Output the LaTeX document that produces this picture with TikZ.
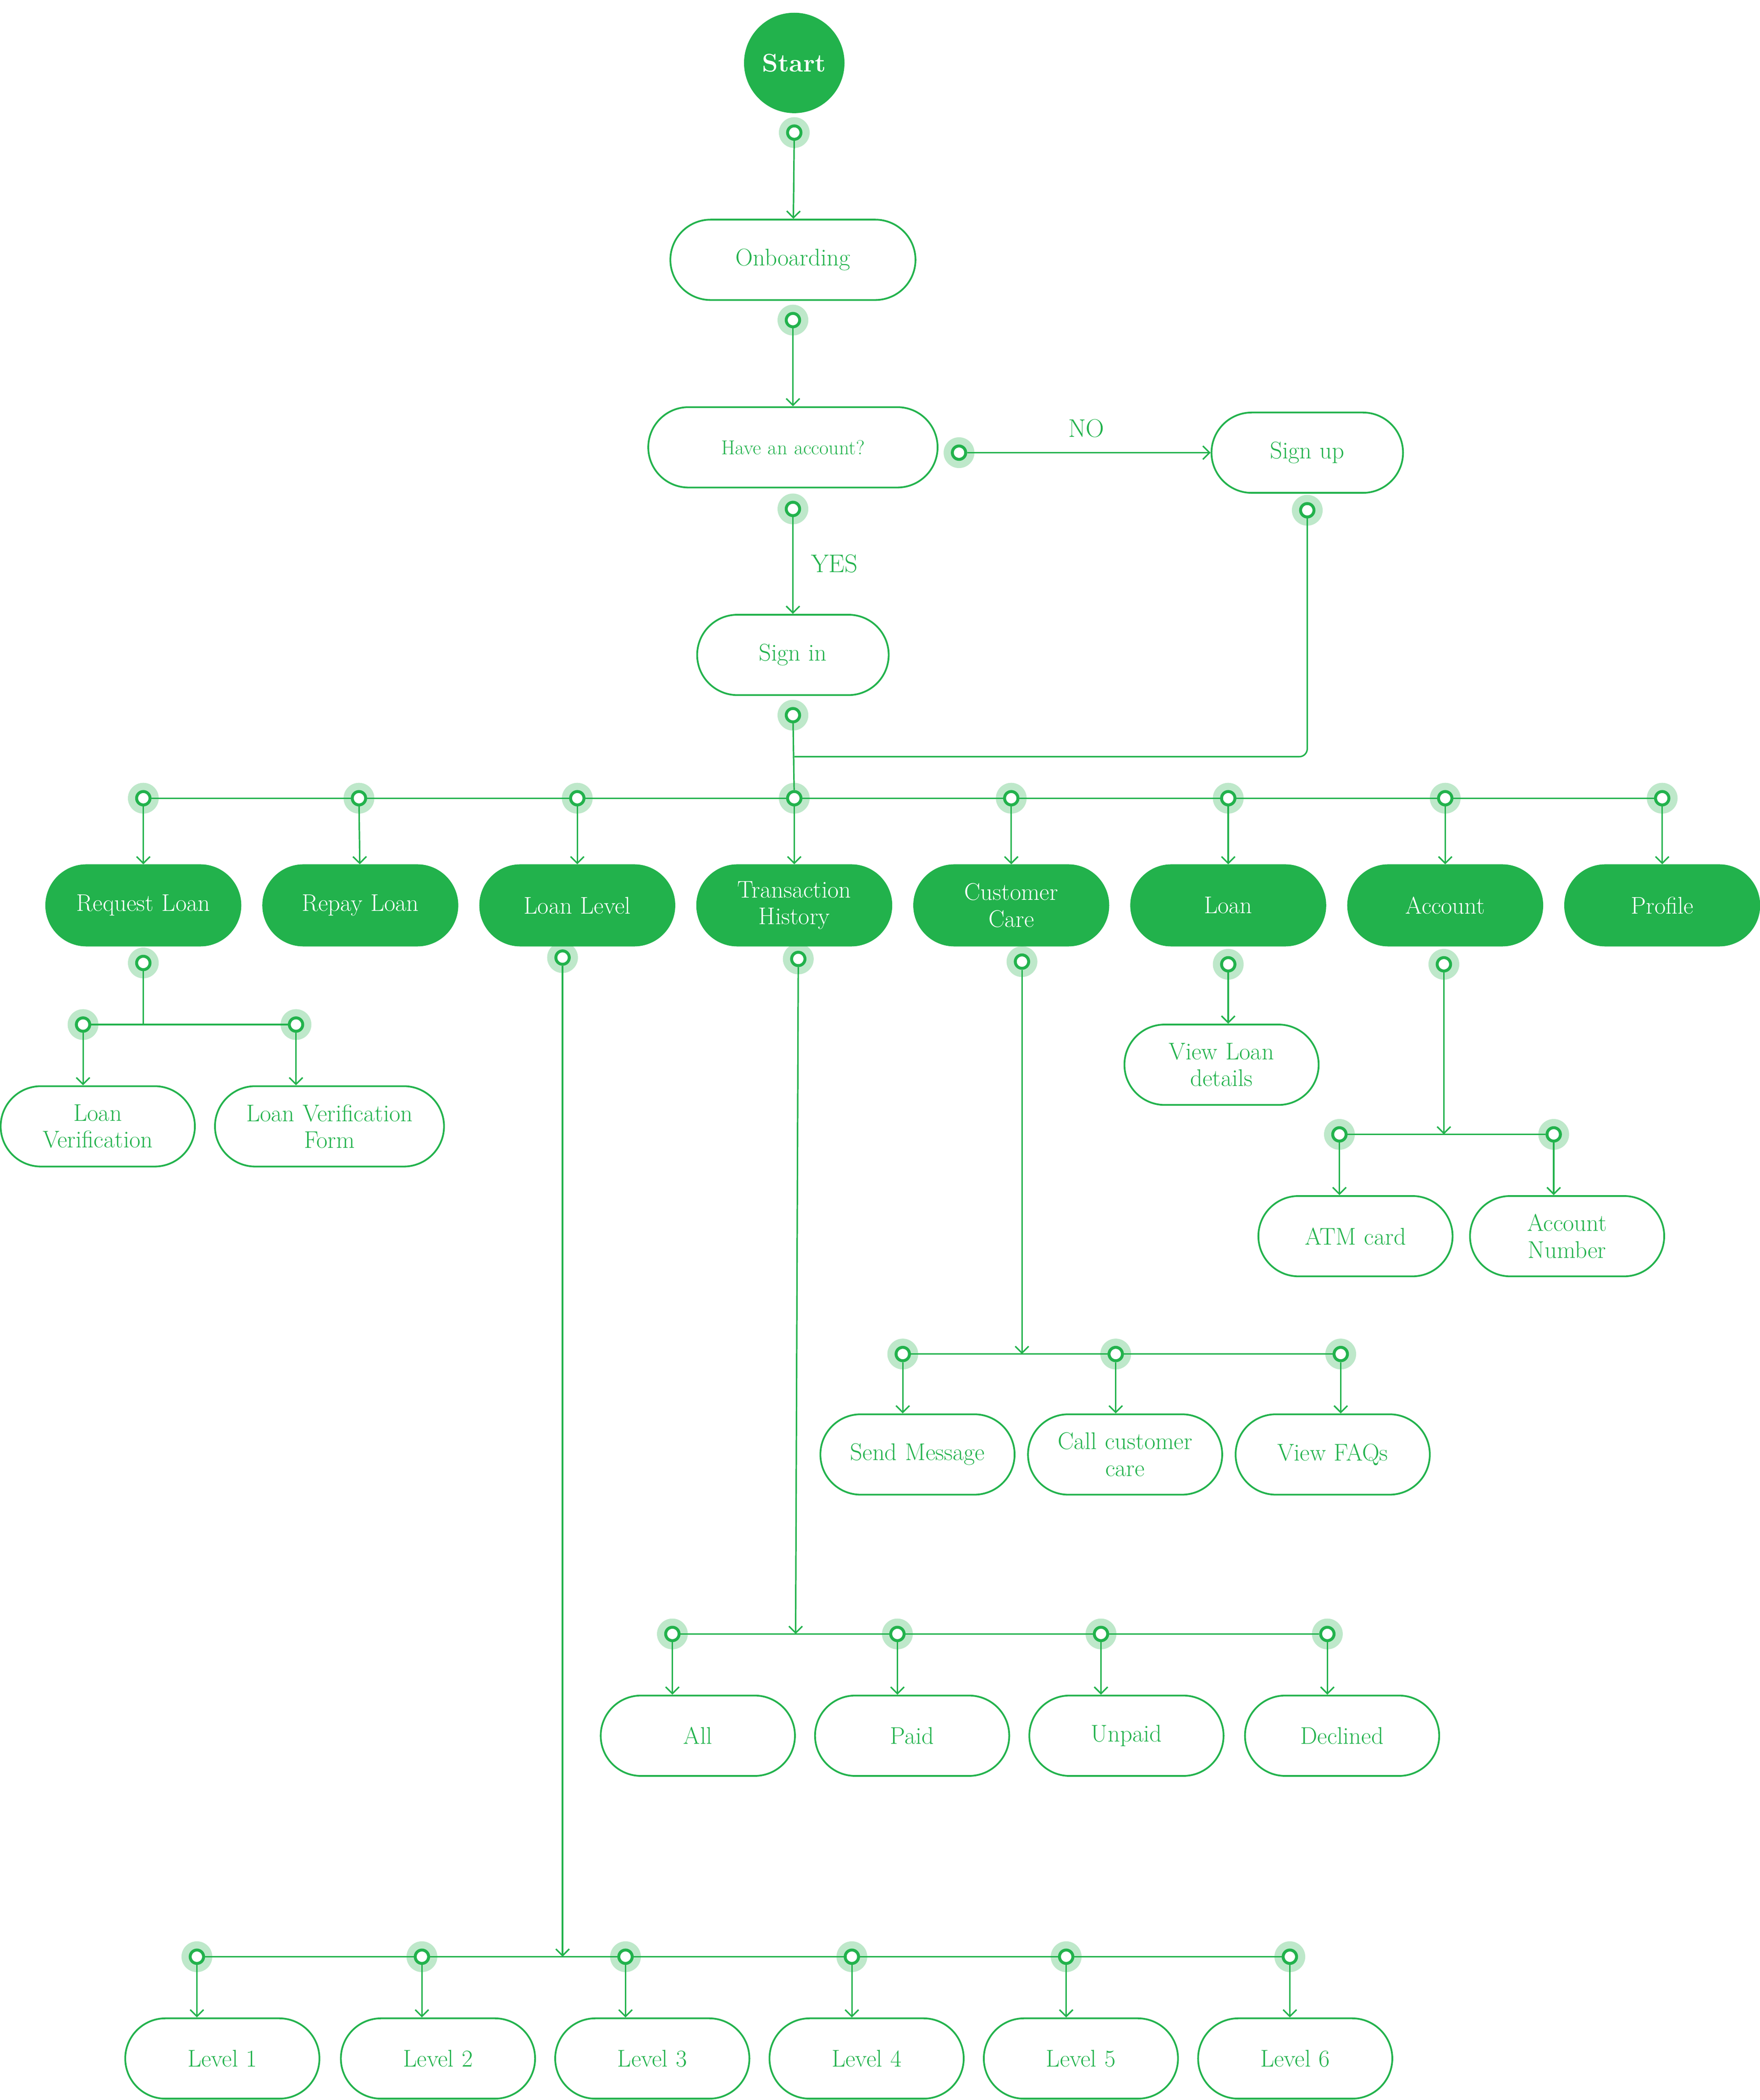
\documentclass[tikz,border=0pt]{standalone}
\usetikzlibrary{positioning,backgrounds,arrows.meta}
\definecolor{leaf}{HTML}{22B24C}
\definecolor{halo}{HTML}{BEE8CA}
\tikzset{
  pill/.style={draw=leaf, line width=1.3pt, rounded corners=30pt, minimum width=145pt,
    minimum height=60pt, text width=140pt, align=center, inner sep=0pt, text=leaf,
    font=\fontsize{18}{20}\selectfont},
  fullpill/.style={pill, fill=leaf, text=white},
  hub/.style={circle, draw=leaf, fill=white, line width=2.2pt, minimum size=10pt, inner sep=0pt},
  link/.style={draw=leaf, line width=1.1pt},
  arr/.style={link, -{Straight Barb[length=5pt,width=10pt,line width=1.1pt]}},
  tag/.style={text=leaf, font=\fontsize{19}{21}\selectfont}
}
\newcommand\hubdot[2]{%
  \begin{pgfonlayer}{background}\fill[halo] (#2) circle (11.5pt);\end{pgfonlayer}
  \node[hub] (#1) at (#2) {};}
\begin{document}
\begin{tikzpicture}[x=1pt,y=-1pt]
\useasboundingbox (0,0) rectangle (1314,1568);
% top of the flow
\node[circle, fill=leaf, minimum size=75pt, text=white, font=\fontsize{19}{21}\selectfont\bfseries] (start) at (593,47) {Start};
\hubdot{d0}{593,99}
\node[pill, minimum width=183pt] (onb) at (592,194) {Onboarding};
\hubdot{d1}{592,239}
\node[pill, minimum width=216pt, font=\fontsize{15}{17}\selectfont] (acc) at (592,334) {Have an account?};
\hubdot{dno}{716,338}
\hubdot{dyes}{592,380}
\node[pill, minimum width=143pt] (signup) at (976,338) {Sign up};
\hubdot{dup}{976,381}
\node[pill, minimum width=143pt] (signin) at (592,489) {Sign in};
\hubdot{din}{592,534}
\node[tag] (no) at (811,320) {NO};
\node[tag] (yes) at (623,421) {YES};
% menu row
\foreach \x/\n in {107/m1,268/m2,431/m3,593/m4,755/m5,917/m6,1079/m7,1241/m8}
  {\hubdot{\n}{\x,596}}
\node[fullpill] (reqloan) at (107,676) {Request Loan};
\node[fullpill] (repay) at (269,676) {Repay Loan};
\node[fullpill] (level) at (431,676) {Loan Level};
\node[fullpill] (trans) at (593,676) {Transaction\\History};
\node[fullpill] (care) at (755,676) {Customer\\Care};
\node[fullpill] (loan) at (917,676) {Loan};
\node[fullpill] (account) at (1079,676) {Account};
\node[fullpill] (profile) at (1241,676) {Profile};
% request loan
\hubdot{r0}{107,719}
\hubdot{r1}{62,765}
\hubdot{r2}{221,765}
\coordinate (rj) at (107,765);
\node[pill] (lver) at (73,841) {Loan\\Verification};
\node[pill, minimum width=171pt, text width=165pt] (lform) at (246,841) {Loan Verification\\Form};
% loan
\hubdot{l0}{917,720}
\node[pill] (viewloan) at (912,795) {View Loan\\details};
% account
\hubdot{a0}{1078,720}
\hubdot{a1}{1000,847}
\hubdot{a2}{1160,847}
\coordinate (aj) at (1078,847);
\node[pill] (atm) at (1012,923) {ATM card};
\node[pill] (accno) at (1170,923) {Account\\Number};
% customer care
\hubdot{c0}{763,718}
\hubdot{c1}{674,1011}
\hubdot{c2}{833,1011}
\hubdot{c3}{1001,1011}
\coordinate (cj) at (763,1011);
\node[pill] (send) at (685,1086) {Send Message};
\node[pill] (call) at (840,1086) {Call customer\\care};
\node[pill] (faq) at (995,1086) {View FAQs};
% transaction history
\hubdot{t0}{596,716}
\hubdot{t1}{502,1220}
\hubdot{t2}{670,1220}
\hubdot{t3}{822,1220}
\hubdot{t4}{991,1220}
\coordinate (tj) at (594,1220);
\node[pill] (all) at (521,1296) {All};
\node[pill] (paid) at (681,1296) {Paid};
\node[pill] (unpaid) at (841,1296) {Unpaid};
\node[pill] (decl) at (1002,1296) {Declined};
% loan level
\hubdot{v0}{420,715}
\foreach \x/\n in {147/v1,315/v2,467/v3,636/v4,796/v5,963/v6}
  {\hubdot{\n}{\x,1461}}
\coordinate (vj) at (420,1461);
\foreach \x/\n/\k in {166/lv1/1,327/lv2/2,487/lv3/3,647/lv4/4,807/lv5/5,967/lv6/6}
  {\node[pill] (\n) at (\x,1537) {Level \k};}
% connectors
\begin{pgfonlayer}{background}
\draw[arr] (d0) -- (onb);
\draw[arr] (d1) -- (acc);
\draw[arr] (dno) -- (signup);
\draw[arr] (dyes) -- (signin);
\draw[link] (din) -- (m4);
\draw[link, rounded corners=6pt] (dup) |- (593,565);
\draw[link] (m1) -- (m8);
\foreach \n/\p in {m1/reqloan,m2/repay,m3/level,m4/trans,m5/care,m6/loan,m7/account,m8/profile}
  {\draw[arr] (\n) -- (\p);}
\draw[link] (r0) -- (rj);
\draw[link] (r1) -- (r2);
\draw[arr] (r1) -- (lver.north -| r1);
\draw[arr] (r2) -- (lform.north -| r2);
\draw[arr] (l0) -- (viewloan.north -| l0);
\draw[arr] (a0) -- (aj);
\draw[link] (a1) -- (a2);
\draw[arr] (a1) -- (atm.north -| a1);
\draw[arr] (a2) -- (accno.north -| a2);
\draw[arr] (c0) -- (cj);
\draw[link] (c1) -- (c3);
\draw[arr] (c1) -- (send.north -| c1);
\draw[arr] (c2) -- (call.north -| c2);
\draw[arr] (c3) -- (faq.north -| c3);
\draw[arr] (t0) -- (tj);
\draw[link] (t1) -- (t4);
\foreach \n/\p in {t1/all,t2/paid,t3/unpaid,t4/decl}
  {\draw[arr] (\n) -- (\p.north -| \n);}
\draw[arr] (v0) -- (vj);
\draw[link] (v1) -- (v6);
\foreach \n/\p in {v1/lv1,v2/lv2,v3/lv3,v4/lv4,v5/lv5,v6/lv6}
  {\draw[arr] (\n) -- (\p.north -| \n);}
\end{pgfonlayer}
\end{tikzpicture}
\end{document}
